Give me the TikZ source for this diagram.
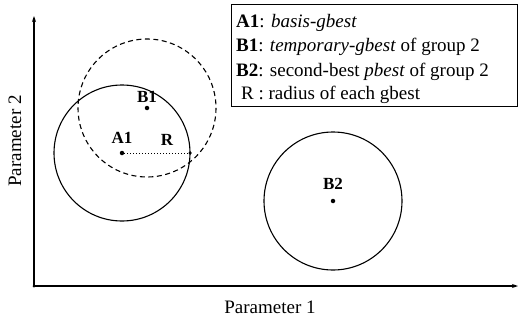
\documentclass[tikz,border=0pt]{standalone}
\usepackage{fontspec}
\setmainfont{Liberation Serif}
\usetikzlibrary{arrows.meta}
\begin{document}
\begin{tikzpicture}[x=1pt,y=-1pt,
  axis/.style={line width=1.3pt,-{Stealth[length=6pt,width=4pt]}},
  circ/.style={line width=1.1pt},
  dcirc/.style={line width=1.1pt,dash pattern=on 5pt off 3.5pt},
  ptdot/.style={circle,fill=black,inner sep=0pt,minimum size=4.5pt},
  lbl/.style={font=\fontsize{17}{19}\selectfont\bfseries,inner sep=0pt},
  legtxt/.style={anchor=base west,inner sep=0pt,font=\fontsize{19}{22}\selectfont},
  axlbl/.style={font=\fontsize{19}{22}\selectfont,inner sep=0pt}]
\useasboundingbox (0,0) rectangle (519,321);
% axes
\coordinate (O) at (34,286);
\coordinate (Ytop) at (34,16);
\coordinate (Xend) at (518,286);
\draw[axis] (O) -- (Ytop);
\draw[axis] (O) -- (Xend);
\node[ptdot,minimum size=3pt] (corner) at (O) {};
\node[axlbl] (p1) at (270,307) {Parameter 1};
\node[axlbl,rotate=90] (p2) at (15,141) {Parameter 2};
% points
\node[ptdot] (A1) at (122,153) {};
\node[ptdot] (B1) at (147,108) {};
\node[ptdot] (B2) at (333,201) {};
\node[ptdot,minimum size=3.5pt] (Rend) at (190,153) {};
% circles
\draw[circ] (A1.center) circle[radius=68];
\draw[dcirc] (B1.center) circle[radius=69];
\draw[circ] (B2.center) circle[radius=69];
\draw[line width=1pt,dotted] (A1) -- (Rend);
% labels
\node[lbl] (lA1) at (122,138) {A1};
\node[lbl] (lB1) at (147,97) {B1};
\node[lbl] (lR) at (167,140) {R};
\node[lbl] (lB2) at (333,184) {B2};
% legend
\draw[line width=0.9pt] (231,4) rectangle (517,106);
\node[legtxt] (L1) at (236,28) {\textbf{A1}: \textit{basis-gbest}};
\node[legtxt] (L2) at (236,52) {\textbf{B1}: \textit{temporary-gbest} of group 2};
\node[legtxt] (L3) at (236,76) {\textbf{B2}: second-best \textit{pbest} of group 2};
\node[legtxt] (L4) at (241,99) {R : radius of each gbest};
\end{tikzpicture}
\end{document}
